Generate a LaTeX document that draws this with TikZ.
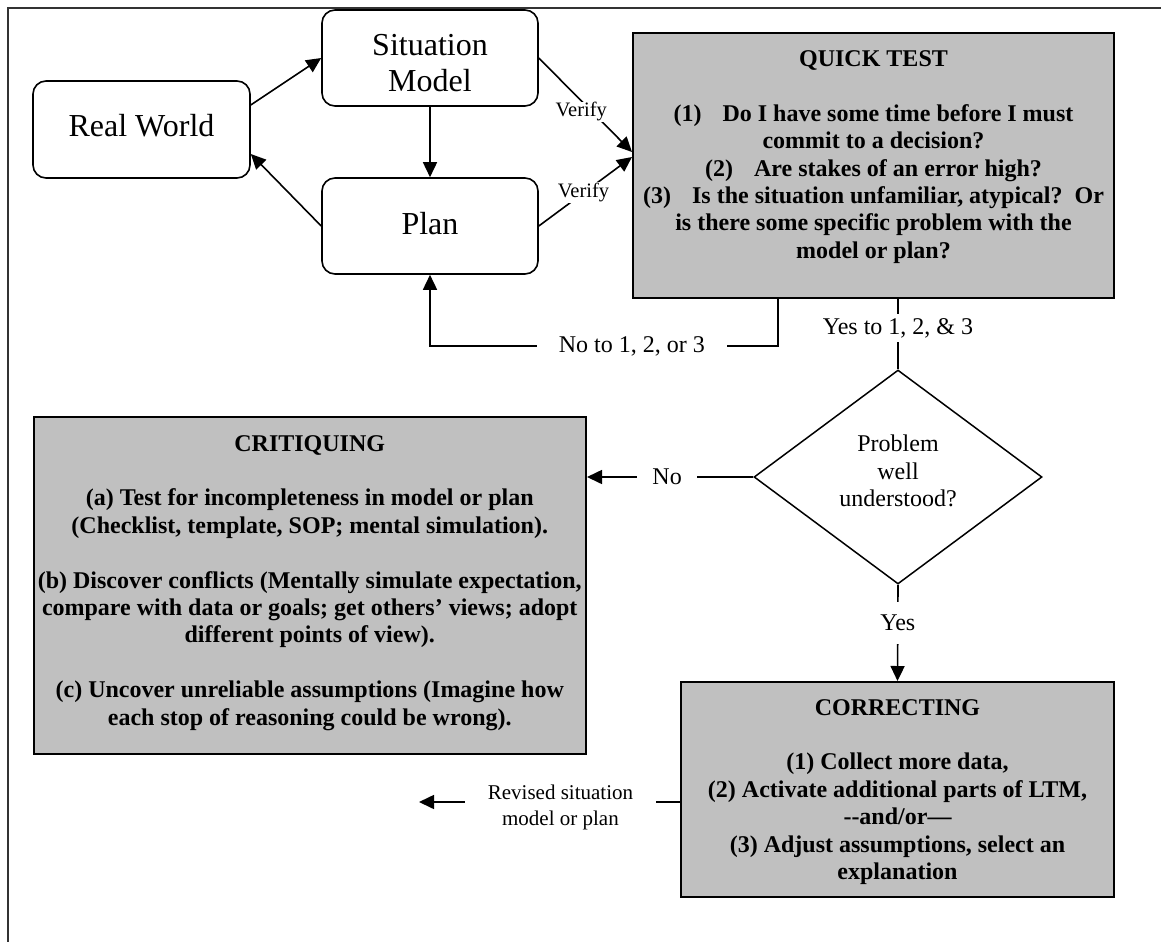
\documentclass[tikz,border=0pt]{standalone}
\usepackage{fontspec}
\setmainfont{Liberation Serif}
\usetikzlibrary{arrows.meta,shapes.geometric}
\definecolor{boxgray}{HTML}{C0C0C0}
\begin{document}
\begin{tikzpicture}[x=1pt,y=-1pt,
  roundbox/.style={draw, line width=1.6pt, rounded corners=13pt, inner sep=0pt,
    align=center, font=\fontsize{32pt}{36pt}\selectfont},
  graybox/.style={draw, line width=2pt, fill=boxgray, inner sep=0pt},
  boxtext/.style={inner sep=0pt, align=center, font=\fontsize{24pt}{27.4pt}\selectfont\bfseries},
  decision/.style={diamond, draw, line width=1.5pt, inner sep=0pt, minimum width=288pt,
    minimum height=214pt, align=center, text depth=12pt, font=\fontsize{24pt}{27.5pt}\selectfont},
  link/.style={line width=1.6pt},
  arrow/.style={link, -{Triangle[length=15pt,width=14pt]}},
  lbl/.style={fill=white, inner ysep=2pt, font=\fontsize{24pt}{28pt}\selectfont},
  smalllbl/.style={fill=white, inner sep=1pt, font=\fontsize{20.5pt}{24pt}\selectfont},
]
\useasboundingbox (0,0) rectangle (1161,942);
\fill[white] (0,0) rectangle (1161,942);

% page frame: top and left rules
\draw[line width=2.4pt, black!80] (1161,8) -- (8,8) -- (8,942);

% mental model loop
\node[roundbox, minimum width=217pt, minimum height=97pt, text depth=8pt] (rw) at (141.5,129.5) {Real World};
\node[roundbox, minimum width=216pt, minimum height=96pt, text height=68pt] (sm) at (430,58) {Situation\\Model};
\node[roundbox, minimum width=216pt, minimum height=96pt, text depth=6pt] (plan) at (430,226) {Plan};

% quick test
\node[graybox, minimum width=481pt, minimum height=265pt] (qt) at (873.5,165.5) {};
\node[boxtext, anchor=north] (qttext) at (873.5,50.4) {QUICK TEST\\[27.4pt]
  (1)\hspace{21pt}Do I have some time before I must\\
  commit to a decision?\\
  (2)\hspace{21pt}Are stakes of an error high?\\
  (3)\hspace{21pt}Is the situation unfamiliar, atypical?\hspace{12pt}Or\\
  is there some specific problem with the\\
  model or plan?};

% decision
\node[decision] (dia) at (898,477) {Problem\\well\\understood?};

% critiquing
\node[graybox, minimum width=552.5pt, minimum height=337pt] (crit) at (309.75,585.5) {};
\node[boxtext, anchor=north] (crittext) at (309.75,435) {CRITIQUING\\[27.4pt]
  (a) Test for incompleteness in model or plan\\
  (Checklist, template, SOP; mental simulation).\\[27.4pt]
  (b) Discover conflicts (Mentally simulate expectation,\\
  compare with data or goals; get others’ views; adopt\\
  different points of view).\\[27.4pt]
  (c) Uncover unreliable assumptions (Imagine how\\
  each stop of reasoning could be wrong).};

% correcting
\node[graybox, minimum width=433pt, minimum height=215pt] (cor) at (897.5,789.5) {};
\node[boxtext, anchor=north] (cortext) at (897.5,699) {CORRECTING\\[27.4pt]
  (1) Collect more data,\\
  (2) Activate additional parts of LTM,\\
  -{}-and/or—\\
  (3) Adjust assumptions, select an\\
  explanation};

% connectors
\draw[arrow] ([yshift=24.5pt]rw.east) -- (sm.west);
\draw[arrow] (plan.west) -- ([yshift=-24.5pt]rw.east);
\draw[arrow] (sm.south) -- (plan.north);
\draw[arrow] (sm.east) -- node[smalllbl, pos=0.574, xshift=-11pt] {Verify} ([yshift=13.5pt]qt.west);
\draw[arrow] (plan.east) -- node[smalllbl, pos=0.48] {Verify} ([yshift=8.5pt]qt.west);

\coordinate (nocorner) at (430,346);
\draw[arrow] ([xshift=-95.5pt]qt.south) |- node[lbl, pos=0.71, inner xsep=22pt] {No to 1, 2, or 3} (nocorner) -- (plan.south);

\draw[link] (dia.north |- qt.south) -- node[lbl, pos=0.417, inner ysep=4pt] {Yes to 1, 2, \& 3} (dia.north);
\draw[arrow] (dia.west) -- node[lbl, pos=0.518, inner xsep=15pt] {No} (dia.west -| crit.east);
\draw[arrow] (dia.south) -- node[lbl, pos=0.4, inner ysep=13pt] {Yes} (cor.north);

\coordinate (revend) at (419,802);
\draw[arrow] ([yshift=-12.5pt]cor.west) -- node[lbl, pos=0.458, inner xsep=23pt, yshift=-5pt,
  align=center, font=\fontsize{21pt}{26pt}\selectfont] {Revised situation\\model or plan} (revend);
\end{tikzpicture}
\end{document}
